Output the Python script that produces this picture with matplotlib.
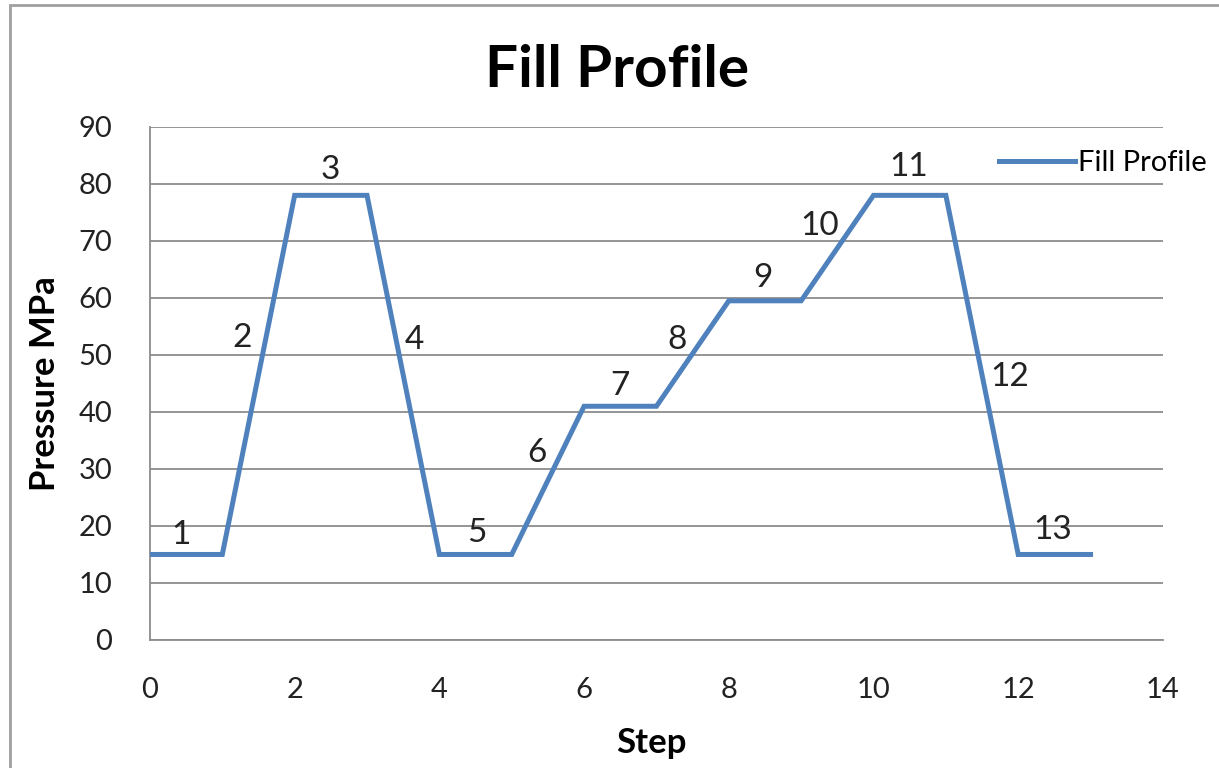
import matplotlib.pyplot as plt

plt.rcParams['font.family'] = ['Lato', 'DejaVu Sans']

# data
step = [0, 1, 2, 3, 4, 5, 6, 7, 8, 9, 10, 11, 12, 13]
pressure = [15, 15, 78, 78, 15, 15, 41, 41, 59.5, 59.5, 78, 78, 15, 15]

# segment labels and where they sit (in data units)
seg_labels = ['1', '2', '3', '4', '5', '6', '7', '8', '9', '10', '11', '12', '13']
label_x = [0.43, 1.28, 2.49, 3.66, 4.52, 5.35, 6.49, 7.28, 8.47, 9.25, 10.48, 11.88, 12.47]
label_y = [18.4, 53, 82.5, 52.6, 18.8, 32.8, 44.6, 52.6, 63.5, 72.6, 83, 46.1, 19.3]

fig = plt.figure(figsize=(12.19, 7.68), dpi=100)
ax = fig.add_axes([0.123, 0.1667, 0.831, 0.668])

ax.plot(step, pressure, color='#4F81BD', lw=3.6, label='Fill Profile',
        solid_joinstyle='miter', zorder=3)

for t, x, y in zip(seg_labels, label_x, label_y):
    ax.text(x, y, t, fontsize=24, ha='center', va='center', color='#222222')

ax.set_xlim(0, 14)
ax.set_ylim(0, 90)
ax.set_xticks(range(0, 15, 2))
ax.set_yticks(range(0, 91, 10))
ax.grid(axis='y', color='#8c8c8c', lw=1.3)
ax.set_axisbelow(True)
for s in ['top', 'right']:
    ax.spines[s].set_visible(False)
for s in ['left', 'bottom']:
    ax.spines[s].set_color('#8c8c8c')
    ax.spines[s].set_linewidth(1.3)
ax.tick_params(length=0, labelsize=21, colors='#222222')
ax.tick_params(axis='x', pad=27)
ax.tick_params(axis='y', pad=27)

fig.text(0.506, 0.908, 'Fill Profile', fontsize=42, fontweight='bold',
         ha='center', va='center')
ax.set_xlabel('Step', fontsize=25, fontweight='bold', va='center')
ax.xaxis.set_label_coords(0.495, -0.2)
ax.set_ylabel('Pressure MPa', fontsize=25, fontweight='bold', va='center')
ax.yaxis.set_label_coords(-0.104, 0.5)

ax.legend(loc='center left', bbox_to_anchor=(0.838, 0.929), frameon=False,
          fontsize=21, handlelength=2.6, handletextpad=0.1, borderaxespad=0,
          borderpad=0)

# outer chart border
fig.add_artist(plt.Rectangle((0.008, -0.01), 1.0, 1.003, transform=fig.transFigure,
                             fill=False, edgecolor='#a0a0a0', lw=2))

fig.savefig('out.png', dpi=100)
